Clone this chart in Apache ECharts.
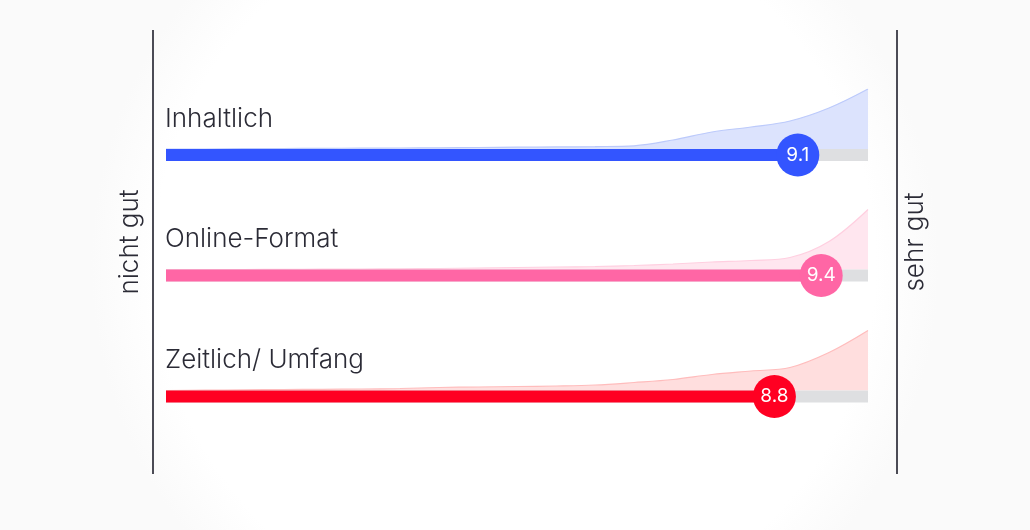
<!DOCTYPE html>
<html>
<head>
<meta charset="utf-8">
<script src="https://cdn.jsdelivr.net/npm/echarts@6/dist/echarts.min.js"></script>
<style>
  html, body { margin: 0; padding: 0; background: #ffffff; }
  #chart { width: 1030px; height: 530px; }
</style>
</head>
<body>
<div id="chart"></div>
<script>
// ---- data ----
const categories = ['Inhaltlich', 'Online-Format', 'Zeitlich/ Umfang'];
const scores = [9.1, 9.4, 8.8];
const ratingSteps = [1, 1.5, 2, 2.5, 3, 3.5, 4, 4.5, 5, 5.5, 6, 6.5, 7, 7.5, 8, 8.5, 9, 9.5, 10];
const distInhaltlich = [0, 0, 0.3, 0.5, 0.7, 0.8, 1, 1.2, 1.5, 1.8, 2.1, 2.4, 3.2, 9, 17, 22, 28, 41, 60];
const distOnline = [0, 0, 0, 0.2, 0.3, 0.5, 0.7, 1, 1.5, 2, 2.5, 3, 4, 5.5, 7.5, 9, 12, 28, 60];
const distZeitlich = [0, 0.3, 0.6, 1, 1.2, 1.5, 2, 3, 3.5, 4, 4.5, 5.5, 8, 11, 16, 19.5, 23, 38, 60];
const sideLabels = ['nicht gut', 'sehr gut'];
const scaleMin = 1, scaleMax = 10;

// ---- styling ----
const barColors = ['#3355ff', '#ff66a5', '#ff0022'];
const areaFill = ['#dce3fd', '#ffe6ef', '#ffdede'];
const areaLine = ['#bccafb', '#ffcfe0', '#ffbcbc'];
const dists = [distInhaltlich, distOnline, distZeitlich];
const FONT = 'Inter, "Noto Sans", sans-serif';
const rowBaselines = [149, 269.5, 390.5];
const peak = 60, below = 13, barY = -6;

const grids = [], xAxes = [], yAxes = [], series = [], graphics = [];
categories.forEach((name, i) => {
  grids.push({ left: 166, right: 1030 - 868, top: rowBaselines[i] - peak, height: peak + below });
  xAxes.push({ type: 'value', gridIndex: i, min: scaleMin, max: scaleMax, show: false });
  yAxes.push({ type: 'value', gridIndex: i, min: -below, max: peak, show: false });
  series.push({
    type: 'line', xAxisIndex: i, yAxisIndex: i, smooth: 0.35, showSymbol: false, silent: true,
    data: ratingSteps.map((s, k) => [s, dists[i][k]]),
    lineStyle: { color: areaLine[i], width: 1.2 },
    areaStyle: { color: areaFill[i], opacity: 1 },
    z: 1
  });
  series.push({
    type: 'line', xAxisIndex: i, yAxisIndex: i, showSymbol: false, silent: true,
    data: [[scaleMin, barY], [scaleMax, barY]],
    lineStyle: { color: '#dedfe1', width: 12, cap: 'butt' }, z: 2
  });
  series.push({
    type: 'line', xAxisIndex: i, yAxisIndex: i, showSymbol: false, silent: true,
    data: [[scaleMin, barY], [scores[i], barY]],
    lineStyle: { color: barColors[i], width: 12, cap: 'butt' }, z: 3
  });
  series.push({
    type: 'scatter', xAxisIndex: i, yAxisIndex: i, silent: true,
    data: [[scores[i], barY]], symbolSize: 43,
    itemStyle: { color: barColors[i], opacity: 1 },
    label: { show: true, position: 'inside', formatter: p => String(p.value[0]),
             color: '#ffffff', fontSize: 19, fontFamily: FONT },
    z: 4
  });
  graphics.push({
    type: 'text', x: 165, y: rowBaselines[i] - 30,
    style: { text: name, fill: '#2b2b36', font: '300 26px ' + FONT, textVerticalAlign: 'middle' }
  });
});

// side lines and labels
graphics.push({ type: 'line', shape: { x1: 153, y1: 30, x2: 153, y2: 474 }, style: { stroke: '#4b4b55', lineWidth: 2 } });
graphics.push({ type: 'line', shape: { x1: 897, y1: 30, x2: 897, y2: 474 }, style: { stroke: '#4b4b55', lineWidth: 2 } });
graphics.push({ type: 'text', x: 130, y: 242, rotation: Math.PI / 2,
  style: { text: sideLabels[0], fill: '#2b2b36', font: '300 26px ' + FONT, textAlign: 'center', textVerticalAlign: 'middle' } });
graphics.push({ type: 'text', x: 915, y: 242, rotation: Math.PI / 2,
  style: { text: sideLabels[1], fill: '#2b2b36', font: '300 26px ' + FONT, textAlign: 'center', textVerticalAlign: 'middle' } });

const chart = echarts.init(document.getElementById('chart'), null, { renderer: 'canvas' });
chart.setOption({
  animation: false,
  backgroundColor: {
    type: 'radial', x: 0.5, y: 0.5, r: 0.8,
    colorStops: [{ offset: 0, color: '#ffffff' }, { offset: 0.85, color: '#ffffff' }, { offset: 1, color: '#fafafa' }]
  },
  grid: grids, xAxis: xAxes, yAxis: yAxes, series: series, graphic: graphics
});
</script>
</body>
</html>
